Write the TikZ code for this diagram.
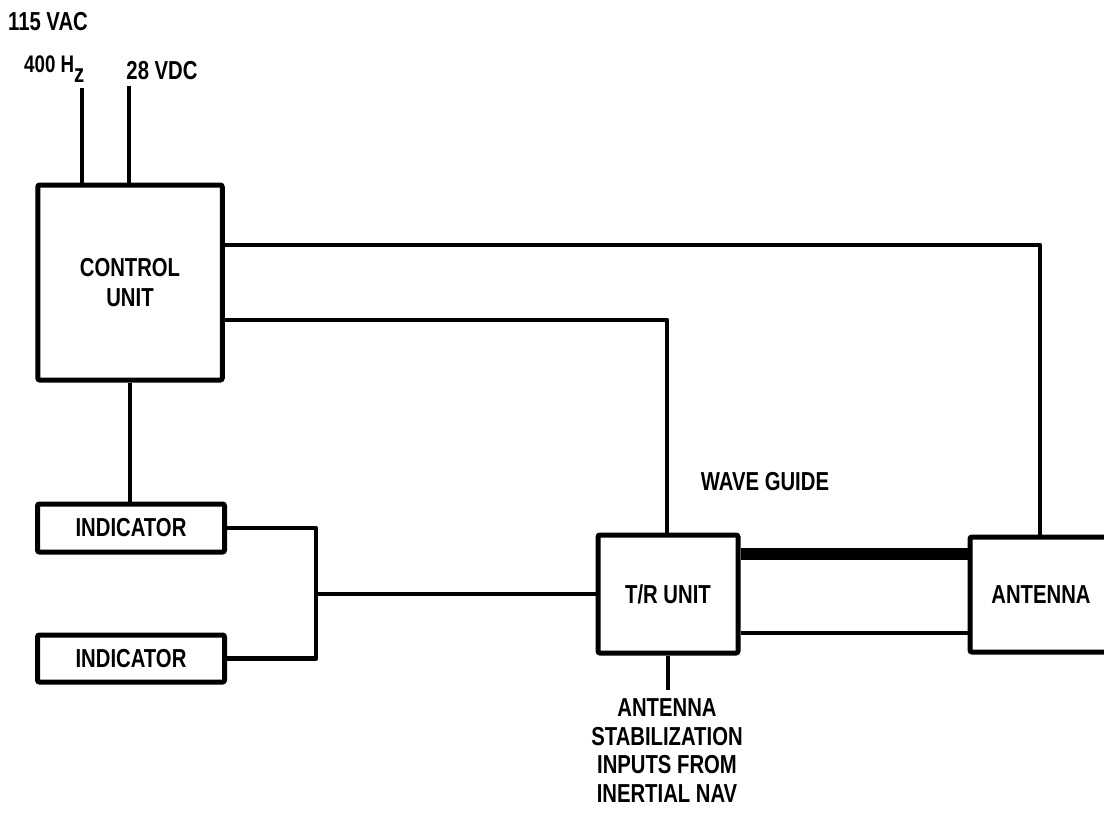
\documentclass[tikz,border=0pt]{standalone}
\usepackage{fontspec}
\setmainfont[FakeStretch=0.78]{Liberation Sans}
\begin{document}
\begin{tikzpicture}[x=1pt,y=-1pt,
  box/.style={draw, line width=5pt, rounded corners=2pt, inner sep=0pt, align=center,
              font=\bfseries\fontsize{26}{30}\selectfont},
  wire/.style={line width=4.5pt, line join=round},
  lbl/.style={font=\bfseries\fontsize{26}{28.5}\selectfont, inner sep=0pt, align=center},
]
\useasboundingbox (0,0) rectangle (1104,822);
% boxes
\node[box, minimum width=184.5pt, minimum height=195pt] (ctrl) at (130,282.5) {CONTROL\\UNIT};
\node[box, minimum width=187pt, minimum height=48pt] (ind1) at (131,528) {INDICATOR};
\node[box, minimum width=187pt, minimum height=47pt] (ind2) at (131,658.5) {INDICATOR};
\node[box, minimum width=140pt, minimum height=118pt] (tr) at (668,594) {T/R UNIT};
\node[box, minimum width=142pt, minimum height=115pt] (ant) at (1041,594.5) {ANTENNA};
% labels
\node[lbl] (vac) at (48,22) {115 VAC};
\node[lbl, font=\bfseries\fontsize{24}{28}\selectfont, anchor=base west] (hz) at (24,72) {400 H\raisebox{-10pt}{\fontsize{26}{28}\selectfont z}};
\node[lbl] (vdc) at (162,71) {28 VDC};
\node[lbl] (wg) at (765,482) {WAVE GUIDE};
\node[lbl] (nav) at (667,750.5) {ANTENNA\\STABILIZATION\\INPUTS FROM\\INERTIAL NAV};
% coordinates
\coordinate (p1) at (82,88);
\coordinate (p2) at (129,86);
\coordinate (c1) at (1040,245);
\coordinate (c2) at (667,320);
\coordinate (j) at (316,594);
\coordinate (wgy) at (850,554);
\coordinate (low) at (850,633);
\coordinate (navtop) at (668,690);
% connectors
\draw[wire] (p1) -- (p1 |- ctrl.north);
\draw[wire] (p2) -- (p2 |- ctrl.north);
\draw[wire] (ctrl.east |- c1) -- (c1) -- (c1 |- ant.north);
\draw[wire] (ctrl.east |- c2) -- (c2) -- (c2 |- tr.north);
\draw[wire] (ctrl.south) -- (ctrl.south |- ind1.north);
\draw[wire] (ind1.east) -- (j |- ind1.east) -- (j |- ind2.east) -- (ind2.east);
\draw[wire] (j) -- (tr.west);
\draw[line width=12pt] (tr.east |- wgy) -- (ant.west |- wgy);
\draw[wire] (tr.east |- low) -- (ant.west |- low);
\draw[wire] (tr.south) -- (navtop);
\end{tikzpicture}
\end{document}
